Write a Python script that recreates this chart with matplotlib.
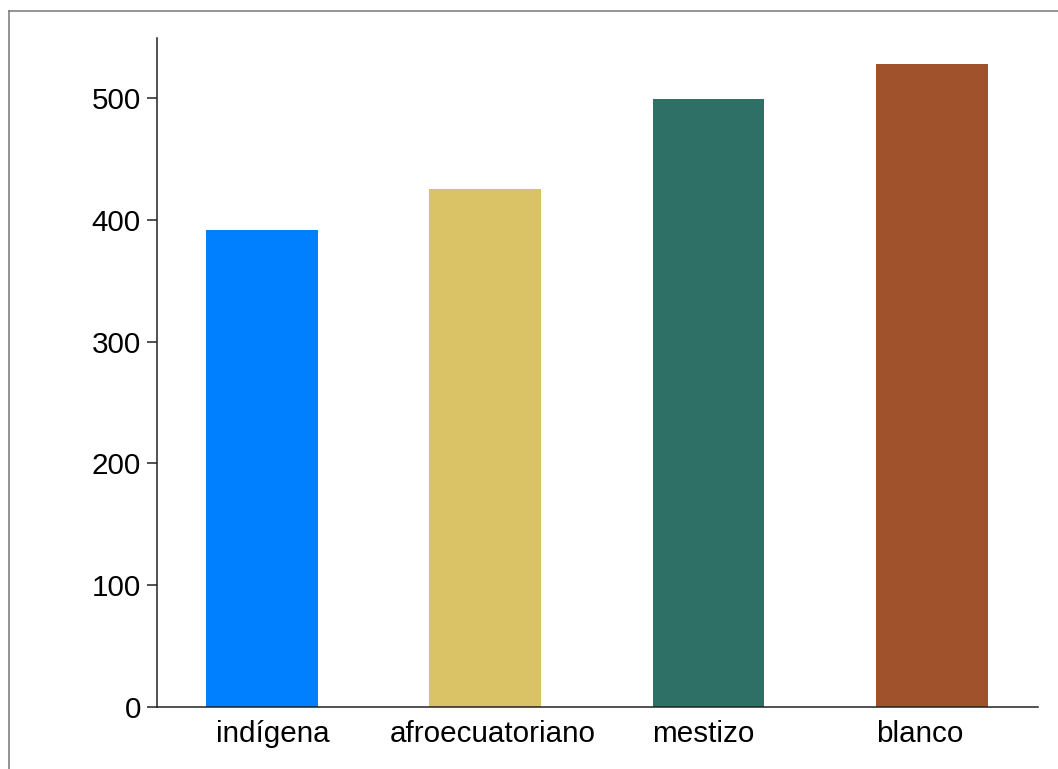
import matplotlib
matplotlib.use("Agg")
import matplotlib.pyplot as plt
from matplotlib.lines import Line2D

categories = ["indígena", "afroecuatoriano", "mestizo", "blanco"]
values = [391.5, 425, 499.5, 528]
colors = ["#0080FF", "#D9C366", "#2E6F66", "#A0522D"]

plt.rcParams['font.family'] = ['Liberation Sans', 'DejaVu Sans']

W, H = 1058, 769
fig = plt.figure(figsize=(W / 100, H / 100), dpi=100)
ax = fig.add_axes([157 / W, 1 - 707 / H, (1038 - 157) / W, (707 - 38) / H])

x = list(range(len(categories)))
ax.bar(x, values, width=0.5, color=colors)
ax.set_xlim(-0.47, 3.475)
ax.set_ylim(0, 549.3)
# labels in the reference sit slightly off the bar centres
label_pos = [0.049, 1.035, 1.976, 2.945]
ax.set_xticks(label_pos)
ax.set_xticklabels(categories)
ax.set_yticks([0, 100, 200, 300, 400, 500])

for s in ["top", "right"]:
    ax.spines[s].set_visible(False)
for s in ["left", "bottom"]:
    ax.spines[s].set_color("#222222")
    ax.spines[s].set_linewidth(1.1)

ax.tick_params(axis="y", length=7.2, width=1.1, color="#222222", pad=4.5, labelsize=21.3, labelcolor="black")
ax.tick_params(axis="x", length=0, pad=9, labelsize=21.3, labelcolor="black")

# figure frame
fx0 = 8.5 / W
fy0 = 1 - 10.5 / H
fig.add_artist(Line2D([fx0, fx0], [0, fy0], transform=fig.transFigure, color="#777777", lw=1.1))
fig.add_artist(Line2D([fx0, 1], [fy0, fy0], transform=fig.transFigure, color="#777777", lw=1.1))

fig.savefig("out.png", dpi=100)
